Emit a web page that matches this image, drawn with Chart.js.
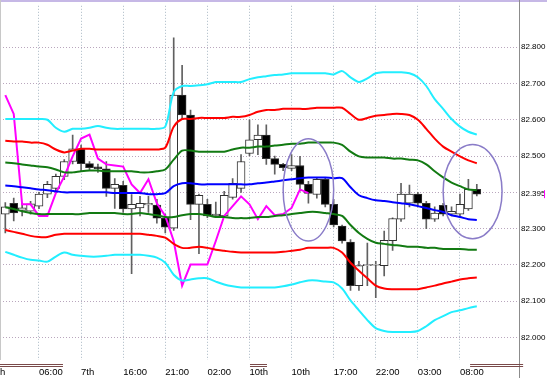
<!DOCTYPE html>
<html>
<head>
<meta charset="utf-8">
<script src="https://cdn.jsdelivr.net/npm/chart.js@4.4.0/dist/chart.umd.min.js"></script>
<style>
  html, body { margin: 0; padding: 0; background: #fff; }
  #wrap { position: relative; width: 547px; height: 378px; }
</style>
</head>
<body>
<div id="wrap"><canvas id="chart" width="547" height="378"></canvas></div>
<script>
// hourly candles, oldest first
const opens  = [82.340,82.370,82.350,82.348,82.362,82.395,82.411,82.444,82.485,82.520,
                82.479,82.470,82.465,82.411,82.419,82.354,82.357,82.365,82.365,82.329,
                82.301,82.668,82.613,82.367,82.367,82.335,82.335,82.386,82.411,82.507,
                82.545,82.558,82.493,82.477,82.466,82.474,82.422,82.394,82.436,82.367,
                82.307,82.263,82.143,82.198,82.199,82.198,82.267,82.326,82.370,82.395,
                82.370,82.326,82.364,82.340,82.340,82.354,82.408];
const highs  = [82.372,82.384,82.370,82.375,82.400,82.430,82.450,82.490,82.558,82.530,
                82.485,82.478,82.485,82.438,82.430,82.394,82.389,82.389,82.381,82.340,
                82.826,82.750,82.627,82.395,82.381,82.373,82.403,82.438,82.504,82.600,
                82.586,82.586,82.500,82.480,82.504,82.499,82.430,82.440,82.440,82.381,
                82.310,82.270,82.210,82.260,82.210,82.293,82.330,82.425,82.420,82.400,
                82.375,82.360,82.370,82.360,82.395,82.436,82.422];
const lows   = [82.288,82.321,82.335,82.340,82.355,82.385,82.400,82.435,82.478,82.458,
                82.460,82.455,82.389,82.356,82.345,82.176,82.335,82.345,82.315,82.288,
                82.295,82.600,82.325,82.231,82.330,82.330,82.330,82.381,82.400,82.500,
                82.504,82.477,82.450,82.460,82.460,82.403,82.370,82.384,82.360,82.305,
                82.260,82.130,82.130,82.143,82.110,82.170,82.240,82.320,82.360,82.360,
                82.300,82.320,82.335,82.335,82.335,82.350,82.390];
const closes = [82.360,82.343,82.357,82.368,82.395,82.422,82.444,82.485,82.520,82.479,
                82.468,82.465,82.411,82.422,82.354,82.367,82.370,82.370,82.329,82.304,
                82.668,82.613,82.367,82.392,82.335,82.340,82.392,82.425,82.485,82.545,
                82.558,82.493,82.477,82.468,82.474,82.422,82.397,82.436,82.367,82.310,
                82.266,82.143,82.198,82.200,82.200,82.268,82.328,82.395,82.395,82.370,
                82.326,82.343,82.340,82.348,82.367,82.408,82.395];

// bands
const cyanUp  = [82.602,82.602,82.602,82.602,82.602,82.600,82.578,82.567,82.575,82.575,
                 82.578,82.583,82.578,82.575,82.575,82.575,82.575,82.575,82.575,82.581,
                 82.676,82.693,82.693,82.695,82.698,82.704,82.704,82.704,82.704,82.712,
                 82.717,82.720,82.723,82.725,82.728,82.728,82.728,82.728,82.728,82.725,
                 82.734,82.717,82.704,82.714,82.728,82.731,82.731,82.731,82.728,82.717,
                 82.693,82.657,82.630,82.602,82.581,82.567,82.559];
const redUp   = [82.542,82.540,82.540,82.537,82.537,82.531,82.518,82.510,82.515,82.520,
                 82.520,82.518,82.518,82.518,82.518,82.518,82.518,82.518,82.518,82.523,
                 82.581,82.602,82.602,82.605,82.605,82.605,82.605,82.608,82.608,82.613,
                 82.622,82.627,82.627,82.630,82.630,82.630,82.630,82.633,82.633,82.633,
                 82.633,82.616,82.600,82.605,82.611,82.613,82.616,82.616,82.613,82.600,
                 82.575,82.548,82.526,82.512,82.499,82.488,82.480];
const greenUp = [82.482,82.480,82.477,82.474,82.471,82.469,82.463,82.455,82.455,82.458,
                 82.460,82.460,82.458,82.458,82.458,82.458,82.455,82.455,82.458,82.463,
                 82.490,82.515,82.515,82.512,82.512,82.512,82.512,82.518,82.523,82.523,
                 82.526,82.526,82.529,82.531,82.534,82.534,82.537,82.537,82.537,82.537,
                 82.531,82.512,82.499,82.496,82.496,82.496,82.493,82.493,82.490,82.488,
                 82.477,82.458,82.441,82.427,82.417,82.408,82.406];
const midLine = [82.419,82.417,82.414,82.411,82.408,82.406,82.403,82.400,82.400,82.400,
                 82.400,82.400,82.400,82.398,82.398,82.398,82.398,82.395,82.395,82.398,
                 82.417,82.425,82.425,82.422,82.422,82.422,82.422,82.422,82.422,82.422,
                 82.425,82.427,82.430,82.433,82.436,82.439,82.441,82.441,82.441,82.439,
                 82.439,82.414,82.392,82.384,82.378,82.376,82.373,82.370,82.367,82.362,
                 82.357,82.351,82.346,82.337,82.332,82.326,82.324];
const greenDn = [82.359,82.354,82.348,82.343,82.340,82.340,82.340,82.340,82.340,82.340,
                 82.343,82.343,82.343,82.343,82.340,82.340,82.343,82.340,82.337,82.332,
                 82.332,82.337,82.340,82.340,82.337,82.332,82.332,82.329,82.329,82.329,
                 82.332,82.332,82.335,82.337,82.340,82.343,82.346,82.346,82.343,82.340,
                 82.335,82.310,82.288,82.272,82.261,82.258,82.255,82.253,82.250,82.250,
                 82.247,82.247,82.244,82.244,82.244,82.242,82.242];
const redDn   = [82.296,82.291,82.286,82.280,82.277,82.277,82.283,82.286,82.286,82.286,
                 82.286,82.286,82.286,82.286,82.286,82.286,82.286,82.283,82.280,82.275,
                 82.258,82.247,82.247,82.250,82.247,82.242,82.239,82.236,82.234,82.234,
                 82.234,82.234,82.234,82.236,82.239,82.242,82.247,82.247,82.247,82.247,
                 82.234,82.206,82.184,82.163,82.143,82.135,82.133,82.133,82.133,82.133,
                 82.138,82.143,82.149,82.154,82.160,82.163,82.165];
const cyanDn  = [82.236,82.228,82.220,82.214,82.212,82.209,82.223,82.234,82.228,82.225,
                 82.223,82.223,82.225,82.228,82.228,82.228,82.228,82.225,82.220,82.206,
                 82.173,82.157,82.160,82.163,82.163,82.154,82.146,82.141,82.138,82.138,
                 82.138,82.138,82.138,82.141,82.146,82.152,82.157,82.157,82.154,82.152,
                 82.135,82.102,82.075,82.048,82.026,82.018,82.015,82.015,82.015,82.018,
                 82.031,82.048,82.059,82.070,82.075,82.081,82.086];

// magenta line, ends early
const lagLine = [82.668,82.616,82.367,82.367,82.335,82.335,82.398,82.444,82.499,82.548,
                 82.559,82.493,82.477,82.474,82.471,82.422,82.398,82.436,82.370,82.335,
                 82.266,82.143,82.201,82.201,82.201,82.266,82.335,82.362,82.389,82.367,
                 82.326,82.362,82.337,82.340,82.357,82.408,82.398];

// axis labels
const tickIdx  = [-0.63, 4, 9, 14, 19, 24, 29, 34, 39, 44, 49, 54];
const tickText = ['h','06:00','7th','16:00','21:00','02:00','10th','10th','17:00','22:00','03:00','08:00'];
const yTicks   = [82.0, 82.1, 82.2, 82.3, 82.4, 82.5, 82.6, 82.7, 82.8];
const lastPrice = closes[closes.length - 1];

const idx = opens.map((_, i) => i);
const pts = arr => arr.map((v, i) => ({ x: i, y: v }));

function lineSet(arr, color, tension) {
  return {
    type: 'line', data: pts(arr), borderColor: color, borderWidth: 2,
    pointRadius: 0, tension: tension, fill: false, order: 0
  };
}

// ellipses, date separators, right axis line, price tag
const decor = {
  id: 'decor',
  afterDatasetsDraw(chart) {
    const { ctx, scales: { x, y } } = chart;
    ctx.save();
    ctx.strokeStyle = '#8a7cc8';
    ctx.lineWidth = 1.5;
    [[36, 82.407, 3, 0.141], [55.5, 82.402, 3.5, 0.13]].forEach(e => {
      const cx = x.getPixelForValue(e[0]), cy = y.getPixelForValue(e[1]);
      const rx = x.getPixelForValue(e[0] + e[2]) - cx;
      const ry = y.getPixelForValue(e[1] - e[3]) - cy;
      ctx.beginPath();
      ctx.ellipse(cx, cy, rx, ry, 0, 0, Math.PI * 2);
      ctx.stroke();
    });
    ctx.restore();
  },
  afterDraw(chart) {
    const { ctx, chartArea: a, scales: { x, y } } = chart;
    ctx.save();
    ctx.fillStyle = '#c6b8e6';
    ctx.fillRect(0, 0, chart.width, 2);
    ctx.fillStyle = '#c8c8c8';
    ctx.fillRect(0, 0, 1, a.bottom);
    ctx.fillStyle = '#8c8c8c';
    ctx.fillRect(a.right - 1, 0, 1, chart.height);
    // day separators
    ctx.fillStyle = '#7a4a4a';
    [[-0.63, 6.85], [29.06, 31.08], [55.2, 61.5]].forEach(r => {
      const x0 = x.getPixelForValue(r[0]), x1 = x.getPixelForValue(r[1]);
      ctx.fillRect(x0, a.bottom + 4, x1 - x0, 1);
      ctx.fillRect(x0, a.bottom + 6, x1 - x0, 1);
    });
    // current price
    const py = y.getPixelForValue(lastPrice);
    ctx.font = "8px 'Liberation Sans Narrow', 'Liberation Sans', Arial, sans-serif";
    ctx.fillStyle = '#000';
    ctx.textBaseline = 'middle';
    ctx.textAlign = 'left';
    ctx.fillText(lastPrice.toFixed(3), a.right + 1, py);
    ctx.fillStyle = '#ff00ff';
    ctx.fillRect(chart.width - 3, py - 4, 1, 8);
    ctx.restore();
  }
};

new Chart(document.getElementById('chart'), {
  type: 'bar',
  data: {
    datasets: [
      lineSet(cyanUp, '#22eeff', 0.3),
      lineSet(redUp, '#ff0000', 0.3),
      lineSet(greenUp, '#127a12', 0.3),
      lineSet(midLine, '#0000ff', 0.3),
      lineSet(greenDn, '#127a12', 0.3),
      lineSet(redDn, '#ff0000', 0.3),
      lineSet(cyanDn, '#22eeff', 0.3),
      lineSet(lagLine, '#ff00ff', 0),
      {
        type: 'bar',
        data: idx.map(i => ({ x: i, y: [opens[i], closes[i]] })),
        backgroundColor: idx.map(i => closes[i] < opens[i] ? '#000000' : '#ffffff'),
        borderColor: '#303030', borderWidth: 1, borderSkipped: false,
        barThickness: 8, minBarLength: 1, grouped: false, order: 1
      },
      {
        type: 'bar',
        data: idx.map(i => ({ x: i, y: [lows[i], highs[i]] })),
        backgroundColor: '#606060', barThickness: 1, grouped: false, order: 2
      }
    ]
  },
  options: {
    responsive: false,
    animation: false,
    layout: { padding: { left: 0, top: 3, right: 0, bottom: 0 } },
    plugins: { legend: { display: false }, tooltip: { enabled: false } },
    scales: {
      x: {
        type: 'linear', min: -0.63, max: 61.13, offset: false,
        afterBuildTicks: s => { s.ticks = tickIdx.map(v => ({ value: v })); },
        afterFit: s => { s.height = 18; },
        grid: { color: '#a9b8c4', drawTicks: true, tickLength: 7, tickColor: 'rgba(0,0,0,0)', offset: false },
        border: { display: false, dash: [1, 2] },
        ticks: {
          align: 'start', padding: 0, maxRotation: 0, autoSkip: false, color: '#000',
          font: { family: "'Liberation Sans', Arial, sans-serif", size: 9.5 },
          callback: (v, i) => tickText[i]
        }
      },
      y: {
        position: 'right', min: 81.938, max: 82.914,
        afterBuildTicks: s => { s.ticks = yTicks.map(v => ({ value: v })); },
        afterFit: s => { s.width = 27; },
        grid: { color: '#b9a6bd', drawTicks: false },
        border: { display: false, dash: [1, 2] },
        ticks: {
          padding: 1, color: '#000',
          font: { family: "'Liberation Sans Narrow', 'Liberation Sans', Arial, sans-serif", size: 8 },
          callback: v => Math.abs(v - 82.4) < 1e-6 ? '' : v.toFixed(3)
        }
      }
    }
  },
  plugins: [decor]
});
</script>
</body>
</html>
